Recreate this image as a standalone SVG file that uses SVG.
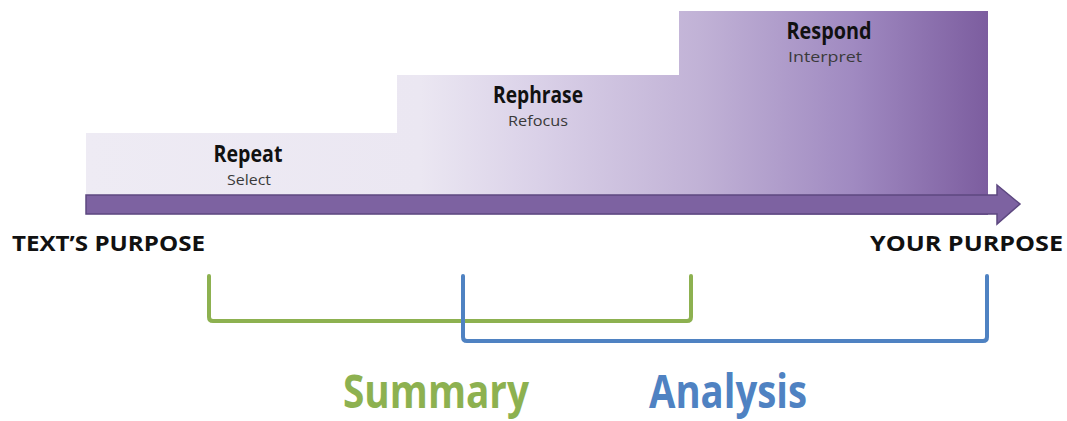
<svg xmlns="http://www.w3.org/2000/svg" width="1067" height="421" viewBox="0 0 1067 421">
<defs>
<linearGradient id="stairGrad" gradientUnits="userSpaceOnUse" x1="86" y1="0" x2="988" y2="0">
<stop offset="0" stop-color="#eeebf4"/>
<stop offset="0.37" stop-color="#ebe7f2"/>
<stop offset="0.5" stop-color="#dad1e8"/>
<stop offset="0.68" stop-color="#c1b2d6"/>
<stop offset="0.85" stop-color="#a08ac1"/>
<stop offset="1" stop-color="#7c5d9f"/>
</linearGradient>
<style>
.head{font-family:"Open Sans","Liberation Sans",sans-serif;font-weight:700;font-size:23px;fill:#111;text-anchor:middle}
.sub{font-family:"Open Sans","Liberation Sans",sans-serif;font-size:14px;fill:#3a3a3a;text-anchor:middle}
.end{font-family:"Open Sans","Liberation Sans",sans-serif;font-weight:700;font-size:22px;fill:#111}
.big{font-family:"Open Sans","Liberation Sans",sans-serif;font-weight:700;font-size:46px;text-anchor:middle}
.brk{fill:none;stroke-width:4;stroke-linejoin:round;stroke-linecap:round}
</style>
</defs>
<rect width="1067" height="421" fill="#ffffff"/>
<g id="stairs">
<path d="M86 133 H397 V75 H679 V11 H988 V215 H86 Z" fill="url(#stairGrad)"/>
</g>
<g id="connectors">
<path id="timeline" d="M86 195 H997 V185 L1020 204 L997 224 V214 H86 Z" fill="#7d62a1" stroke="#5d4880" stroke-width="1.5" stroke-linejoin="miter"/>
<path id="summary-bracket" class="brk" d="M209 276 V317 Q209 321 213 321 H687 Q691 321 691 317 V276" stroke="#8db150"/>
<path id="analysis-bracket" class="brk" d="M463 276 V337 Q463 341 467 341 H983 Q987 341 987 337 V276" stroke="#4f82c2"/>
</g>
<g id="step-repeat">
<text class="head" x="248" y="162" textLength="69" lengthAdjust="spacingAndGlyphs">Repeat</text>
<text class="sub" x="249" y="185" textLength="44" lengthAdjust="spacingAndGlyphs">Select</text>
</g>
<g id="step-rephrase">
<text class="head" x="538" y="103" textLength="90" lengthAdjust="spacingAndGlyphs">Rephrase</text>
<text class="sub" x="538" y="126" textLength="60" lengthAdjust="spacingAndGlyphs">Refocus</text>
</g>
<g id="step-respond">
<text class="head" x="829" y="39" textLength="85" lengthAdjust="spacingAndGlyphs">Respond</text>
<text class="sub" x="825" y="62" textLength="74" lengthAdjust="spacingAndGlyphs">Interpret</text>
</g>
<g id="label-text-purpose">
<text class="end" x="12" y="251" textLength="193" lengthAdjust="spacingAndGlyphs">TEXT’S PURPOSE</text>
</g>
<g id="label-your-purpose">
<text class="end" x="870" y="251" textLength="193" lengthAdjust="spacingAndGlyphs">YOUR PURPOSE</text>
</g>
<g id="summary">
<text class="big" x="436" y="408" fill="#8db150" textLength="186" lengthAdjust="spacingAndGlyphs">Summary</text>
</g>
<g id="analysis">
<text class="big" x="728" y="408" fill="#4f82c2" textLength="158" lengthAdjust="spacingAndGlyphs">Analysis</text>
</g>
</svg>
